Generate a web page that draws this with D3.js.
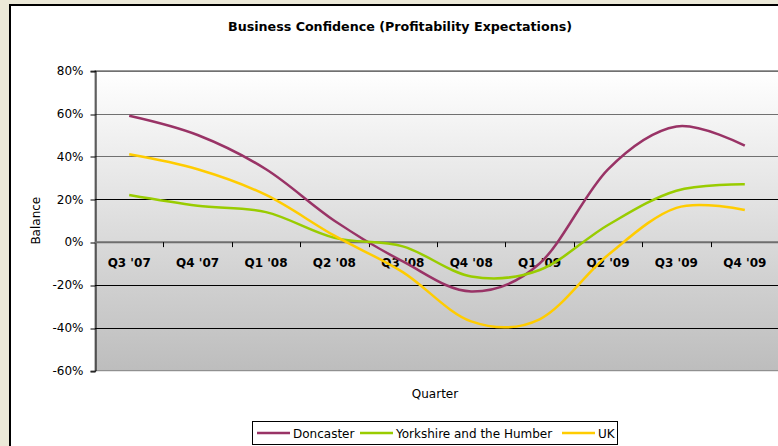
<!DOCTYPE html>
<html>
<head>
<meta charset="utf-8">
<script src="https://cdn.jsdelivr.net/npm/d3@7"></script>
<style>
  body { margin: 0; background: #ece9d8; }
  text { font-family: "DejaVu Sans", sans-serif; fill: #000; }
</style>
</head>
<body>
<div id="main"></div>
<script>
const quarters = ["Q3 '07", "Q4 '07", "Q1 '08", "Q2 '08", "Q3 '08", "Q4 '08", "Q1 '09", "Q2 '09", "Q3 '09", "Q4 '09"];
const doncaster = [59, 50, 34, 10, -9, -23, -10, 34, 54, 45];
const yorkshire = [22, 17, 14, 2, -2, -16, -13, 8, 24, 27];
const uk = [41, 34, 22, 3, -14, -37, -36, -6, 16, 15];
const yTicks = [80, 60, 40, 20, 0, -20, -40, -60];

const seriesNames = ["Doncaster", "Yorkshire and the Humber", "UK"];
const seriesColors = ["#993366", "#99cc00", "#ffcc00"];

const ctx = { w: 778, h: 446, left: 95, right: 779, top: 70.7, bottom: 370.7 };

function createViz() {
    let svg = d3.select("#main").append("svg")
        .attr("width", ctx.w).attr("height", ctx.h);

    // chart area with its frame
    svg.append("rect")
        .attr("x", 10).attr("y", 5)
        .attr("width", 820).attr("height", 500)
        .attr("fill", "#fff").attr("stroke", "#000").attr("stroke-width", 2);

    let x = d3.scaleBand().domain(quarters).range([ctx.left, ctx.right]).padding(0);
    let y = d3.scaleLinear().domain([-60, 80]).range([ctx.bottom, ctx.top]);
    let cx = (d) => x(d) + x.bandwidth() / 2;

    // plot area gradient
    let grad = svg.append("defs").append("linearGradient")
        .attr("id", "bg").attr("x1", 0).attr("y1", 0).attr("x2", 0).attr("y2", 1);
    grad.append("stop").attr("offset", "0%").attr("stop-color", "#ffffff");
    grad.append("stop").attr("offset", "100%").attr("stop-color", "#bdbdbd");

    svg.append("rect")
        .attr("x", ctx.left).attr("y", ctx.top)
        .attr("width", ctx.right - ctx.left).attr("height", ctx.bottom - ctx.top)
        .attr("fill", "url(#bg)").attr("stroke", "#808080").attr("stroke-width", 1);

    // gridlines
    svg.append("g").selectAll("line")
        .data(yTicks.filter((d) => d != 0 && d != -60))
        .enter().append("line")
        .attr("x1", ctx.left).attr("x2", ctx.right)
        .attr("y1", (d) => Math.round(y(d)) + 0.5).attr("y2", (d) => Math.round(y(d)) + 0.5)
        .attr("stroke", (d) => d > 20 ? "#707070" : "#000")
        .attr("stroke-width", 1);

    // value axis
    let yAxis = svg.append("g")
        .attr("transform", `translate(${ctx.left + 0.5},0)`)
        .call(d3.axisLeft(y).tickValues(yTicks).tickSize(5).tickPadding(7)
            .tickFormat((d) => d + "%"));
    yAxis.select(".domain").attr("stroke", "#000");
    yAxis.selectAll(".tick line").attr("stroke", "#000")
        .attr("transform", (d) => `translate(0,${Math.round(y(d)) + 0.5 - y(d)})`);
    yAxis.selectAll("text").style("font-size", "12px")
        .style("font-family", "'DejaVu Sans', sans-serif");

    // category axis on the 0% line
    let y0 = y(0);
    svg.append("line")
        .attr("x1", ctx.left).attr("x2", ctx.right)
        .attr("y1", y0).attr("y2", y0)
        .attr("stroke", "#6e6e6e").attr("stroke-width", 2);
    svg.append("g").selectAll("line")
        .data(quarters.slice(1))
        .enter().append("line")
        .attr("x1", (d) => Math.round(x(d)) + 0.5).attr("x2", (d) => Math.round(x(d)) + 0.5)
        .attr("y1", y0).attr("y2", y0 + 5)
        .attr("stroke", "#000");
    svg.append("g").selectAll("text")
        .data(quarters)
        .enter().append("text")
        .attr("x", cx).attr("y", y0 + 25)
        .style("text-anchor", "middle")
        .style("font-size", "12px").style("font-weight", "bold")
        .text((d) => d);

    // series
    let lineGen = (vals) => d3.line()
        .x((d, i) => cx(quarters[i]))
        .y((d) => y(d))
        .curve(d3.curveCardinal.tension(0))(vals);
    [doncaster, yorkshire, uk].forEach((vals, i) => {
        svg.append("path")
            .attr("d", lineGen(vals))
            .attr("fill", "none")
            .attr("stroke", seriesColors[i])
            .attr("stroke-width", 2.5);
    });

    // titles
    svg.append("text")
        .attr("x", 400).attr("y", 31)
        .style("text-anchor", "middle")
        .style("font-size", "12px").style("font-weight", "bold")
        .attr("textLength", 344).attr("lengthAdjust", "spacingAndGlyphs")
        .text("Business Confidence (Profitability Expectations)");
    svg.append("text")
        .attr("transform", `translate(40,${(ctx.top + ctx.bottom) / 2}) rotate(-90)`)
        .style("text-anchor", "middle")
        .style("font-size", "12px")
        .text("Balance");
    svg.append("text")
        .attr("x", 435).attr("y", 398)
        .style("text-anchor", "middle")
        .style("font-size", "12px")
        .text("Quarter");

    // legend
    let legend = svg.append("g");
    legend.append("rect")
        .attr("x", 252.5).attr("y", 421.5).attr("width", 365).attr("height", 23)
        .attr("fill", "#fff").attr("stroke", "#000");
    let itemX = [257, 360, 562];
    seriesNames.forEach((name, i) => {
        legend.append("line")
            .attr("x1", itemX[i]).attr("x2", itemX[i] + 33)
            .attr("y1", 433).attr("y2", 433)
            .attr("stroke", seriesColors[i]).attr("stroke-width", 2.5);
        legend.append("text")
            .attr("x", itemX[i] + 36).attr("y", 437.5)
            .style("font-size", "12px")
            .text(name);
    });
}

createViz();
</script>
</body>
</html>
